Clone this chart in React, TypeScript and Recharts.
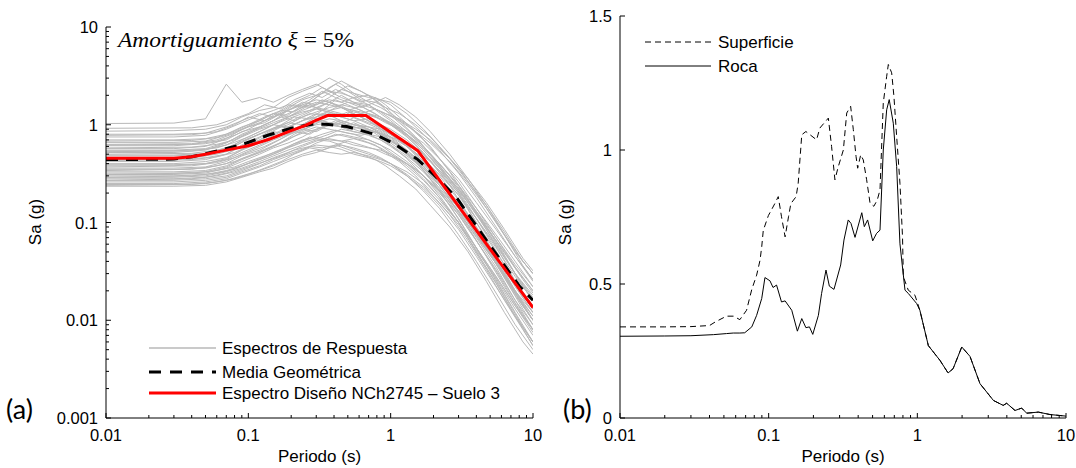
import React from "react";
import { LineChart, Line, XAxis, YAxis } from "recharts";

// ---------- Panel (a): response spectra (log-log) ----------
const grayPeriodsA = [0.01, 0.03, 0.05, 0.07, 0.09, 0.12, 0.15, 0.19, 0.24, 0.3, 0.37, 0.45, 0.55, 0.7, 0.85, 1.0, 1.3, 1.7, 2.2, 3.0, 4.0, 5.5, 7.5, 10];

const grayCurvesA: number[][] = [
  [1.03, 1.04, 1.15, 2.6, 1.7, 1.9, 1.7, 2.0, 2.3, 2.6, 2.2, 1.9, 1.7, 1.6, 1.3, 1.1, 0.8, 0.55, 0.36, 0.2, 0.1, 0.045, 0.02, 0.011],
  [0.86, 0.87, 0.9, 1.0, 1.2, 1.4, 1.5, 1.9, 2.2, 2.5, 3.0, 2.6, 2.1, 1.7, 1.5, 1.3, 1.0, 0.7, 0.45, 0.26, 0.14, 0.07, 0.035, 0.02],
  [0.8, 0.8, 0.82, 0.95, 1.1, 1.3, 1.2, 1.5, 1.8, 2.0, 2.2, 2.1, 1.9, 2.0, 1.8, 1.6, 1.15, 0.8, 0.55, 0.32, 0.18, 0.09, 0.045, 0.025],
  [0.75, 0.75, 0.78, 0.9, 1.05, 1.25, 1.4, 1.6, 1.5, 1.9, 2.4, 2.8, 2.4, 2.0, 1.6, 1.25, 0.9, 0.6, 0.4, 0.24, 0.13, 0.065, 0.03, 0.016],
  [0.7, 0.7, 0.72, 0.8, 0.95, 1.1, 1.3, 1.25, 1.6, 1.8, 1.7, 1.5, 1.4, 1.2, 1.0, 0.85, 0.62, 0.42, 0.28, 0.15, 0.08, 0.04, 0.02, 0.01],
  [0.66, 0.66, 0.68, 0.78, 0.9, 1.05, 1.2, 1.4, 1.7, 1.6, 1.9, 2.3, 2.1, 1.9, 1.8, 1.7, 1.3, 0.9, 0.6, 0.36, 0.2, 0.1, 0.05, 0.03],
  [0.61, 0.61, 0.64, 0.7, 0.85, 0.95, 1.1, 1.3, 1.5, 1.7, 1.6, 1.5, 1.3, 1.1, 0.9, 0.75, 0.55, 0.38, 0.24, 0.13, 0.07, 0.035, 0.016, 0.008],
  [0.57, 0.57, 0.6, 0.72, 0.9, 1.1, 1.3, 1.2, 1.4, 1.6, 1.8, 1.7, 1.9, 1.6, 1.35, 1.15, 0.85, 0.6, 0.4, 0.24, 0.14, 0.075, 0.04, 0.022],
  [0.54, 0.54, 0.56, 0.62, 0.75, 0.9, 1.0, 1.15, 1.3, 1.5, 1.4, 1.3, 1.2, 1.05, 0.95, 0.8, 0.6, 0.45, 0.3, 0.17, 0.09, 0.045, 0.022, 0.012],
  [0.52, 0.52, 0.55, 0.65, 0.8, 0.95, 1.1, 1.4, 1.6, 1.5, 1.7, 2.0, 1.7, 1.4, 1.2, 1.0, 0.75, 0.52, 0.33, 0.19, 0.1, 0.05, 0.025, 0.014],
  [0.49, 0.49, 0.51, 0.58, 0.68, 0.8, 0.9, 1.0, 1.2, 1.35, 1.5, 1.6, 1.5, 1.3, 1.2, 1.05, 0.8, 0.58, 0.38, 0.22, 0.12, 0.06, 0.03, 0.017],
  [0.46, 0.46, 0.48, 0.55, 0.7, 0.85, 1.0, 0.95, 1.1, 1.3, 1.25, 1.1, 1.0, 0.95, 0.85, 0.7, 0.5, 0.34, 0.21, 0.11, 0.055, 0.026, 0.012, 0.006],
  [0.44, 0.44, 0.46, 0.5, 0.6, 0.7, 0.8, 0.95, 1.1, 1.2, 1.3, 1.2, 1.1, 1.15, 1.0, 0.9, 0.7, 0.5, 0.34, 0.2, 0.11, 0.055, 0.028, 0.016],
  [0.42, 0.42, 0.44, 0.5, 0.62, 0.75, 0.9, 1.05, 1.0, 1.2, 1.4, 1.5, 1.3, 1.1, 0.95, 0.8, 0.6, 0.4, 0.26, 0.15, 0.08, 0.04, 0.019, 0.01],
  [0.4, 0.4, 0.42, 0.46, 0.55, 0.65, 0.75, 0.85, 1.0, 1.1, 1.0, 0.95, 1.05, 0.9, 0.75, 0.62, 0.45, 0.3, 0.19, 0.1, 0.05, 0.024, 0.011, 0.0055],
  [0.38, 0.38, 0.4, 0.45, 0.55, 0.7, 0.85, 0.8, 0.95, 1.1, 1.3, 1.2, 1.4, 1.3, 1.15, 1.0, 0.78, 0.55, 0.37, 0.22, 0.12, 0.065, 0.034, 0.02],
  [0.36, 0.36, 0.37, 0.42, 0.5, 0.6, 0.7, 0.8, 0.9, 1.0, 1.05, 1.0, 0.9, 0.8, 0.7, 0.6, 0.46, 0.33, 0.22, 0.12, 0.065, 0.032, 0.015, 0.008],
  [0.35, 0.35, 0.36, 0.4, 0.48, 0.55, 0.65, 0.78, 0.9, 0.85, 1.0, 1.1, 1.0, 0.95, 0.9, 0.8, 0.65, 0.5, 0.36, 0.22, 0.13, 0.07, 0.037, 0.022],
  [0.33, 0.33, 0.34, 0.38, 0.45, 0.52, 0.6, 0.7, 0.85, 0.95, 0.9, 0.85, 0.8, 0.7, 0.62, 0.52, 0.4, 0.28, 0.18, 0.1, 0.05, 0.024, 0.011, 0.006],
  [0.31, 0.31, 0.32, 0.36, 0.42, 0.5, 0.58, 0.65, 0.75, 0.9, 1.0, 0.95, 0.85, 0.8, 0.75, 0.65, 0.5, 0.36, 0.24, 0.14, 0.075, 0.038, 0.018, 0.01],
  [0.3, 0.3, 0.31, 0.34, 0.38, 0.45, 0.52, 0.6, 0.7, 0.75, 0.7, 0.68, 0.72, 0.65, 0.58, 0.5, 0.38, 0.27, 0.18, 0.1, 0.055, 0.028, 0.014, 0.0075],
  [0.29, 0.29, 0.3, 0.33, 0.38, 0.44, 0.5, 0.58, 0.66, 0.72, 0.8, 0.9, 0.85, 0.78, 0.7, 0.62, 0.48, 0.36, 0.25, 0.15, 0.085, 0.045, 0.024, 0.014],
  [0.28, 0.28, 0.29, 0.32, 0.36, 0.42, 0.48, 0.55, 0.62, 0.7, 0.68, 0.62, 0.58, 0.52, 0.46, 0.4, 0.3, 0.21, 0.14, 0.075, 0.04, 0.019, 0.009, 0.005],
  [0.27, 0.27, 0.28, 0.3, 0.34, 0.4, 0.46, 0.52, 0.6, 0.68, 0.75, 0.8, 0.75, 0.7, 0.62, 0.55, 0.42, 0.3, 0.2, 0.12, 0.065, 0.033, 0.016, 0.009],
  [0.26, 0.26, 0.27, 0.29, 0.33, 0.38, 0.44, 0.5, 0.56, 0.62, 0.6, 0.56, 0.5, 0.46, 0.42, 0.38, 0.3, 0.22, 0.15, 0.085, 0.045, 0.022, 0.011, 0.006],
  [0.25, 0.25, 0.26, 0.28, 0.32, 0.37, 0.42, 0.48, 0.55, 0.65, 0.72, 0.68, 0.62, 0.58, 0.55, 0.5, 0.4, 0.3, 0.21, 0.13, 0.072, 0.038, 0.02, 0.012],
  [0.245, 0.245, 0.25, 0.27, 0.3, 0.34, 0.38, 0.44, 0.5, 0.55, 0.52, 0.5, 0.52, 0.48, 0.44, 0.4, 0.33, 0.25, 0.17, 0.1, 0.055, 0.028, 0.014, 0.008],
  [0.235, 0.235, 0.24, 0.26, 0.29, 0.33, 0.36, 0.42, 0.48, 0.52, 0.58, 0.62, 0.56, 0.5, 0.45, 0.4, 0.31, 0.23, 0.16, 0.095, 0.052, 0.027, 0.013, 0.007],
  [0.55, 0.55, 0.57, 0.66, 0.78, 0.92, 1.05, 1.2, 1.35, 1.45, 1.35, 1.2, 1.1, 0.95, 0.82, 0.7, 0.52, 0.36, 0.24, 0.14, 0.075, 0.038, 0.019, 0.01],
  [0.48, 0.48, 0.5, 0.56, 0.66, 0.8, 0.92, 1.05, 1.25, 1.45, 1.7, 1.55, 1.35, 1.25, 1.15, 1.05, 0.85, 0.65, 0.45, 0.28, 0.16, 0.085, 0.045, 0.026],
  [0.39, 0.39, 0.4, 0.44, 0.52, 0.62, 0.72, 0.85, 0.95, 1.05, 1.15, 1.1, 1.0, 0.9, 0.8, 0.7, 0.55, 0.4, 0.27, 0.16, 0.09, 0.046, 0.023, 0.013],
  [0.32, 0.32, 0.33, 0.37, 0.44, 0.52, 0.6, 0.72, 0.82, 0.9, 0.98, 1.05, 0.95, 0.88, 0.82, 0.75, 0.6, 0.45, 0.31, 0.19, 0.11, 0.058, 0.03, 0.018],
];

const grayPeriodsB = [0.01, 0.04, 0.06, 0.08, 0.1, 0.13, 0.17, 0.21, 0.27, 0.33, 0.41, 0.5, 0.62, 0.78, 0.92, 1.15, 1.5, 1.9, 2.6, 3.5, 4.7, 6.3, 8.5, 10];

const grayCurvesB: number[][] = [
  [0.92, 0.93, 1.0, 1.15, 1.3, 1.6, 1.45, 1.8, 2.1, 1.9, 2.3, 2.0, 1.7, 1.9, 1.6, 1.2, 0.85, 0.6, 0.33, 0.17, 0.085, 0.04, 0.018, 0.013],
  [0.78, 0.79, 0.85, 1.0, 1.2, 1.1, 1.4, 1.7, 2.0, 2.4, 2.1, 2.5, 2.2, 1.8, 1.5, 1.1, 0.75, 0.5, 0.28, 0.15, 0.075, 0.037, 0.017, 0.012],
  [0.68, 0.69, 0.74, 0.86, 1.0, 1.2, 1.4, 1.35, 1.7, 2.1, 2.6, 2.2, 1.8, 1.7, 1.9, 1.6, 1.2, 0.85, 0.5, 0.28, 0.15, 0.075, 0.036, 0.026],
  [0.63, 0.64, 0.7, 0.82, 0.95, 1.05, 1.3, 1.6, 1.5, 1.8, 1.6, 1.4, 1.55, 1.3, 1.1, 0.9, 0.62, 0.42, 0.24, 0.12, 0.06, 0.03, 0.014, 0.01],
  [0.58, 0.59, 0.63, 0.7, 0.82, 1.0, 1.2, 1.1, 1.3, 1.25, 1.5, 1.7, 1.5, 1.7, 1.5, 1.3, 1.0, 0.75, 0.45, 0.26, 0.15, 0.08, 0.04, 0.03],
  [0.53, 0.54, 0.58, 0.66, 0.75, 0.9, 1.1, 1.3, 1.6, 1.4, 1.3, 1.25, 1.1, 0.95, 0.8, 0.62, 0.42, 0.28, 0.15, 0.075, 0.037, 0.018, 0.0085, 0.006],
  [0.5, 0.51, 0.55, 0.6, 0.72, 0.85, 1.0, 1.2, 1.15, 1.4, 1.8, 1.6, 1.4, 1.2, 1.05, 0.9, 0.68, 0.5, 0.3, 0.17, 0.09, 0.045, 0.022, 0.016],
  [0.45, 0.46, 0.5, 0.56, 0.64, 0.78, 0.95, 0.9, 1.1, 1.3, 1.2, 1.35, 1.2, 1.0, 0.85, 0.7, 0.5, 0.35, 0.2, 0.11, 0.055, 0.027, 0.013, 0.009],
  [0.43, 0.44, 0.47, 0.52, 0.6, 0.7, 0.85, 1.0, 1.2, 1.1, 1.0, 1.1, 1.3, 1.45, 1.3, 1.1, 0.85, 0.65, 0.42, 0.25, 0.14, 0.075, 0.04, 0.03],
  [0.37, 0.38, 0.41, 0.46, 0.52, 0.6, 0.72, 0.85, 0.8, 0.95, 1.1, 1.0, 0.9, 0.85, 0.75, 0.6, 0.42, 0.29, 0.17, 0.09, 0.045, 0.022, 0.011, 0.008],
  [0.34, 0.35, 0.38, 0.42, 0.48, 0.56, 0.66, 0.8, 0.95, 1.1, 1.0, 0.9, 0.95, 0.85, 0.72, 0.6, 0.45, 0.32, 0.2, 0.11, 0.06, 0.03, 0.015, 0.011],
  [0.31, 0.32, 0.34, 0.37, 0.42, 0.48, 0.55, 0.62, 0.75, 0.7, 0.8, 0.75, 0.7, 0.62, 0.52, 0.42, 0.3, 0.2, 0.12, 0.065, 0.033, 0.016, 0.008, 0.0055],
  [0.29, 0.3, 0.32, 0.35, 0.4, 0.46, 0.54, 0.64, 0.72, 0.8, 0.88, 0.82, 0.78, 0.85, 0.78, 0.7, 0.55, 0.42, 0.27, 0.16, 0.09, 0.05, 0.026, 0.019],
  [0.27, 0.28, 0.3, 0.33, 0.37, 0.42, 0.48, 0.55, 0.6, 0.58, 0.62, 0.56, 0.5, 0.44, 0.38, 0.3, 0.22, 0.15, 0.09, 0.05, 0.025, 0.012, 0.006, 0.0045],
  [0.24, 0.245, 0.26, 0.28, 0.31, 0.36, 0.42, 0.5, 0.58, 0.55, 0.62, 0.68, 0.62, 0.56, 0.5, 0.44, 0.35, 0.26, 0.17, 0.1, 0.055, 0.028, 0.014, 0.01],
  [0.62, 0.63, 0.68, 0.78, 0.9, 1.1, 1.3, 1.5, 1.8, 2.2, 1.9, 1.7, 1.6, 1.45, 1.3, 1.15, 0.9, 0.7, 0.45, 0.28, 0.16, 0.085, 0.043, 0.032],
];

const meanPeriods = [0.01, 0.03, 0.04, 0.064, 0.094, 0.137, 0.2, 0.29, 0.35, 0.49, 0.77, 1.06, 1.55, 2.0, 2.9, 5.0, 8.1, 10];
const meanValues = [0.44, 0.445, 0.47, 0.55, 0.64, 0.78, 0.92, 1.02, 1.01, 0.96, 0.8, 0.64, 0.44, 0.31, 0.18, 0.058, 0.022, 0.016];

const designPeriods = [0.01, 0.03, 0.04, 0.05, 0.07, 0.1, 0.14, 0.2, 0.25, 0.29, 0.36, 0.67, 1.55, 10];
const designValues = [0.454, 0.454, 0.47, 0.5, 0.55, 0.61, 0.71, 0.87, 0.98, 1.09, 1.24, 1.24, 0.543, 0.0135];

// ---------- Panel (b): surface vs rock (linear Sa) ----------
const rocaPeriods = [0.01, 0.02, 0.03, 0.0425, 0.052, 0.0578, 0.064, 0.069, 0.077, 0.083, 0.0898, 0.0944, 0.102, 0.107, 0.113, 0.122, 0.129, 0.143, 0.156, 0.167, 0.178, 0.188, 0.198, 0.216, 0.227, 0.243, 0.256, 0.275, 0.305, 0.321, 0.343, 0.358, 0.381, 0.423, 0.44, 0.463, 0.501, 0.532, 0.561, 0.59, 0.622, 0.647, 0.689, 0.726, 0.764, 0.826, 0.869, 0.99, 1.04, 1.186, 1.42, 1.61, 1.74, 1.99, 2.26, 2.64, 3.25, 3.78, 3.99, 4.54, 5.03, 5.44, 6.51, 7.8, 10];
const rocaValues = [0.305, 0.306, 0.307, 0.311, 0.315, 0.317, 0.317, 0.318, 0.34, 0.383, 0.446, 0.524, 0.512, 0.487, 0.496, 0.433, 0.437, 0.402, 0.324, 0.371, 0.337, 0.34, 0.312, 0.383, 0.465, 0.552, 0.492, 0.48, 0.571, 0.664, 0.739, 0.726, 0.674, 0.766, 0.714, 0.739, 0.661, 0.689, 0.701, 1.0, 1.15, 1.188, 1.1, 0.938, 0.65, 0.477, 0.465, 0.427, 0.402, 0.27, 0.215, 0.168, 0.184, 0.265, 0.23, 0.128, 0.0655, 0.047, 0.055, 0.028, 0.037, 0.018, 0.022, 0.013, 0.007];

const superficiePeriods = [0.01, 0.02, 0.03, 0.04, 0.0436, 0.052, 0.058, 0.064, 0.071, 0.077, 0.083, 0.0875, 0.0898, 0.092, 0.0995, 0.11, 0.116, 0.122, 0.129, 0.136, 0.141, 0.153, 0.158, 0.167, 0.178, 0.21, 0.221, 0.252, 0.265, 0.279, 0.294, 0.318, 0.335, 0.356, 0.371, 0.387, 0.397, 0.416, 0.433, 0.456, 0.481, 0.51, 0.538, 0.561, 0.59, 0.622, 0.638, 0.672, 0.696, 0.726, 0.764, 0.795, 0.805, 0.869, 0.964, 1.04, 1.186, 1.42, 1.61, 1.74, 1.99, 2.26, 2.64, 3.25, 3.78, 3.99, 4.54, 5.03, 5.44, 6.51, 7.8, 10];
const superficieValues = [0.34, 0.34, 0.341, 0.345, 0.358, 0.38, 0.38, 0.367, 0.402, 0.48, 0.533, 0.589, 0.639, 0.7, 0.755, 0.8, 0.826, 0.751, 0.676, 0.751, 0.8, 0.826, 0.876, 1.057, 1.069, 1.038, 1.082, 1.119, 1.013, 0.889, 0.938, 1.0, 1.138, 1.163, 1.076, 0.976, 0.932, 0.982, 0.963, 0.889, 0.801, 0.79, 0.814, 0.851, 1.175, 1.275, 1.319, 1.288, 1.2, 1.05, 0.876, 0.676, 0.527, 0.477, 0.458, 0.402, 0.27, 0.215, 0.168, 0.184, 0.265, 0.23, 0.128, 0.0655, 0.047, 0.055, 0.028, 0.037, 0.018, 0.022, 0.013, 0.007];

// ---------- Tick labels ----------
const xTickLabels = ["0.01", "0.1", "1", "10"];
const leftYTickLabels = ["0.001", "0.01", "0.1", "1", "10"];
const rightYTickValues = [0, 0.5, 1, 1.5];
const rightYTickLabels = ["0", "0.5", "1", "1.5"];

const SANS = '"Liberation Sans", Arial, Helvetica, sans-serif';
const GRAY = "#b8b8b8";
const TICK_MARGIN = 8;

const toRows = (ts: number[], vs: number[]) => ts.map((t, i) => ({ t, v: vs[i] }));

function logTicks(minExp: number, maxExp: number): number[] {
  const out: number[] = [];
  for (let e = minExp; e < maxExp; e++) {
    for (let m = 1; m < 10; m++) out.push(Number((m * Math.pow(10, e)).toPrecision(6)));
  }
  out.push(Number(Math.pow(10, maxExp).toPrecision(6)));
  return out;
}
const isMajorLog = (v: number) => {
  const l = Math.log10(v);
  return Math.abs(l - Math.round(l)) < 1e-9;
};

const xTicks = logTicks(-2, 1);
const leftYTicks = logTicks(-3, 1);

function XTick(props: any) {
  const { x, y, payload } = props;
  const v = payload.value as number;
  const major = isMajorLog(v);
  const ay = y - TICK_MARGIN;
  const label = major ? xTickLabels[Math.round(Math.log10(v)) + 2] : null;
  return (
    <g>
      <line x1={x} x2={x} y1={ay} y2={ay - (major ? 5 : 3)} stroke="#000" strokeWidth={1} />
      {label && (
        <text x={x} y={ay + 23} textAnchor="middle" fontSize={16.5} fontFamily={SANS} fill="#000">
          {label}
        </text>
      )}
    </g>
  );
}

function LeftYTick(props: any) {
  const { x, y, payload } = props;
  const v = payload.value as number;
  const major = isMajorLog(v);
  const ax = x + TICK_MARGIN;
  const label = major ? leftYTickLabels[Math.round(Math.log10(v)) + 3] : null;
  return (
    <g>
      <line x1={ax} x2={ax + (major ? 5 : 3)} y1={y} y2={y} stroke="#000" strokeWidth={1} />
      {label && (
        <text x={x} y={y + 6} textAnchor="end" fontSize={16.5} fontFamily={SANS} fill="#000">
          {label}
        </text>
      )}
    </g>
  );
}

function RightYTick(props: any) {
  const { x, y, payload } = props;
  const v = payload.value as number;
  const ax = x + TICK_MARGIN;
  const idx = rightYTickValues.indexOf(v);
  return (
    <g>
      <line x1={ax} x2={ax + 5} y1={y} y2={y} stroke="#000" strokeWidth={1} />
      <text x={x} y={y + 6} textAnchor="end" fontSize={16.5} fontFamily={SANS} fill="#000">
        {rightYTickLabels[idx]}
      </text>
    </g>
  );
}

function GrayLine(key: string, ts: number[], vs: number[]) {
  return (
    <Line
      key={key}
      data={toRows(ts, vs)}
      dataKey="v"
      type="linear"
      stroke={GRAY}
      strokeWidth={1}
      dot={false}
      activeDot={false}
      isAnimationActive={false}
      legendType="none"
    />
  );
}

export default function App() {
  const meanRows = toRows(meanPeriods, meanValues);
  const designRows = toRows(designPeriods, designValues);
  const rocaRows = toRows(rocaPeriods, rocaValues);
  const supRows = toRows(superficiePeriods, superficieValues);

  return (
    <div style={{ position: "absolute", left: 0, top: 0, width: 1076, height: 468, background: "#fff" }}>
      <div style={{ position: "absolute", left: 0, top: 0 }}>
        <LineChart width={555} height={468} margin={{ top: 27, right: 22, bottom: 20, left: 46 }}>
          <XAxis
            dataKey="t"
            type="number"
            scale="log"
            domain={[0.01, 10]}
            ticks={xTicks}
            interval={0}
            allowDataOverflow
            tickSize={0}
            tickMargin={TICK_MARGIN}
            height={30}
            axisLine={{ stroke: "#000", strokeWidth: 1 }}
            tickLine={false}
            tick={(p: any) => <XTick {...p} />}
          />
          <YAxis
            type="number"
            scale="log"
            domain={[0.001, 10]}
            ticks={leftYTicks}
            interval={0}
            allowDataOverflow
            tickSize={0}
            tickMargin={TICK_MARGIN}
            width={60}
            axisLine={{ stroke: "#000", strokeWidth: 1 }}
            tickLine={false}
            tick={(p: any) => <LeftYTick {...p} />}
          />
          {grayCurvesA.map((c, k) => GrayLine("ga" + k, grayPeriodsA, c))}
          {grayCurvesB.map((c, k) => GrayLine("gb" + k, grayPeriodsB, c))}
          <Line
            data={meanRows}
            dataKey="v"
            type="linear"
            stroke="#000"
            strokeWidth={3}
            strokeDasharray="12 8"
            dot={false}
            activeDot={false}
            isAnimationActive={false}
          />
          <Line
            data={designRows}
            dataKey="v"
            type="linear"
            stroke="#ff0000"
            strokeWidth={3}
            dot={false}
            activeDot={false}
            isAnimationActive={false}
          />
        </LineChart>
      </div>

      <div style={{ position: "absolute", left: 540, top: 0 }}>
        <LineChart width={536} height={468} margin={{ top: 16, right: 10, bottom: 20, left: 20 }}>
          <XAxis
            dataKey="t"
            type="number"
            scale="log"
            domain={[0.01, 10]}
            ticks={xTicks}
            interval={0}
            allowDataOverflow
            tickSize={0}
            tickMargin={TICK_MARGIN}
            height={30}
            axisLine={{ stroke: "#000", strokeWidth: 1 }}
            tickLine={false}
            tick={(p: any) => <XTick {...p} />}
          />
          <YAxis
            type="number"
            domain={[0, 1.5]}
            ticks={rightYTickValues}
            interval={0}
            allowDataOverflow
            tickSize={0}
            tickMargin={TICK_MARGIN}
            width={60}
            axisLine={{ stroke: "#000", strokeWidth: 1 }}
            tickLine={false}
            tick={(p: any) => <RightYTick {...p} />}
          />
          <Line
            data={supRows}
            dataKey="v"
            type="linear"
            stroke="#000"
            strokeWidth={1}
            strokeDasharray="6 4"
            dot={false}
            activeDot={false}
            isAnimationActive={false}
          />
          <Line
            data={rocaRows}
            dataKey="v"
            type="linear"
            stroke="#000"
            strokeWidth={1}
            dot={false}
            activeDot={false}
            isAnimationActive={false}
          />
        </LineChart>
      </div>

      <svg width={1076} height={468} style={{ position: "absolute", left: 0, top: 0, pointerEvents: "none" }}>
        {/* panel (a) texts */}
        <text x={118} y={47} fontFamily='"Liberation Serif", "Times New Roman", serif' fontSize={21} fill="#000" textLength={236} lengthAdjust="spacingAndGlyphs">
          <tspan fontStyle="italic">Amortiguamiento</tspan>
          <tspan fontStyle="italic"> ξ</tspan>
          <tspan> = 5%</tspan>
        </text>
        <text transform="translate(41,222) rotate(-90)" textAnchor="middle" fontFamily={SANS} fontSize={17} fill="#000">Sa (g)</text>
        <text x={319.5} y={462} textAnchor="middle" fontFamily={SANS} fontSize={17} fill="#000">Periodo (s)</text>
        <text x={6} y={419} fontFamily='Lato, "Open Sans", sans-serif' fontSize={27} fill="#000">(a)</text>

        {/* panel (a) legend */}
        <line x1={149} x2={216} y1={348} y2={348} stroke={GRAY} strokeWidth={1.3} />
        <text x={222} y={354} fontFamily={SANS} fontSize={17} fill="#000">Espectros de Respuesta</text>
        <line x1={149} x2={216} y1={372} y2={372} stroke="#000" strokeWidth={3} strokeDasharray="12 9" />
        <text x={222} y={378} fontFamily={SANS} fontSize={17} fill="#000">Media Geométrica</text>
        <line x1={149} x2={216} y1={393} y2={393} stroke="#ff0000" strokeWidth={3} />
        <text x={222} y={399} fontFamily={SANS} fontSize={17} fill="#000">Espectro Diseño NCh2745 – Suelo 3</text>

        {/* panel (b) texts */}
        <text transform="translate(571,222) rotate(-90)" textAnchor="middle" fontFamily={SANS} fontSize={17} fill="#000">Sa (g)</text>
        <text x={843} y={462} textAnchor="middle" fontFamily={SANS} fontSize={17} fill="#000">Periodo (s)</text>
        <text x={563} y={419} fontFamily='Lato, "Open Sans", sans-serif' fontSize={27} fill="#000">(b)</text>

        {/* panel (b) legend */}
        <line x1={645} x2={711} y1={42} y2={42} stroke="#000" strokeWidth={1} strokeDasharray="6 4" />
        <text x={718} y={48} fontFamily={SANS} fontSize={17} fill="#000">Superficie</text>
        <line x1={645} x2={711} y1={66} y2={66} stroke="#000" strokeWidth={1} />
        <text x={718} y={72} fontFamily={SANS} fontSize={17} fill="#000">Roca</text>
      </svg>
    </div>
  );
}
